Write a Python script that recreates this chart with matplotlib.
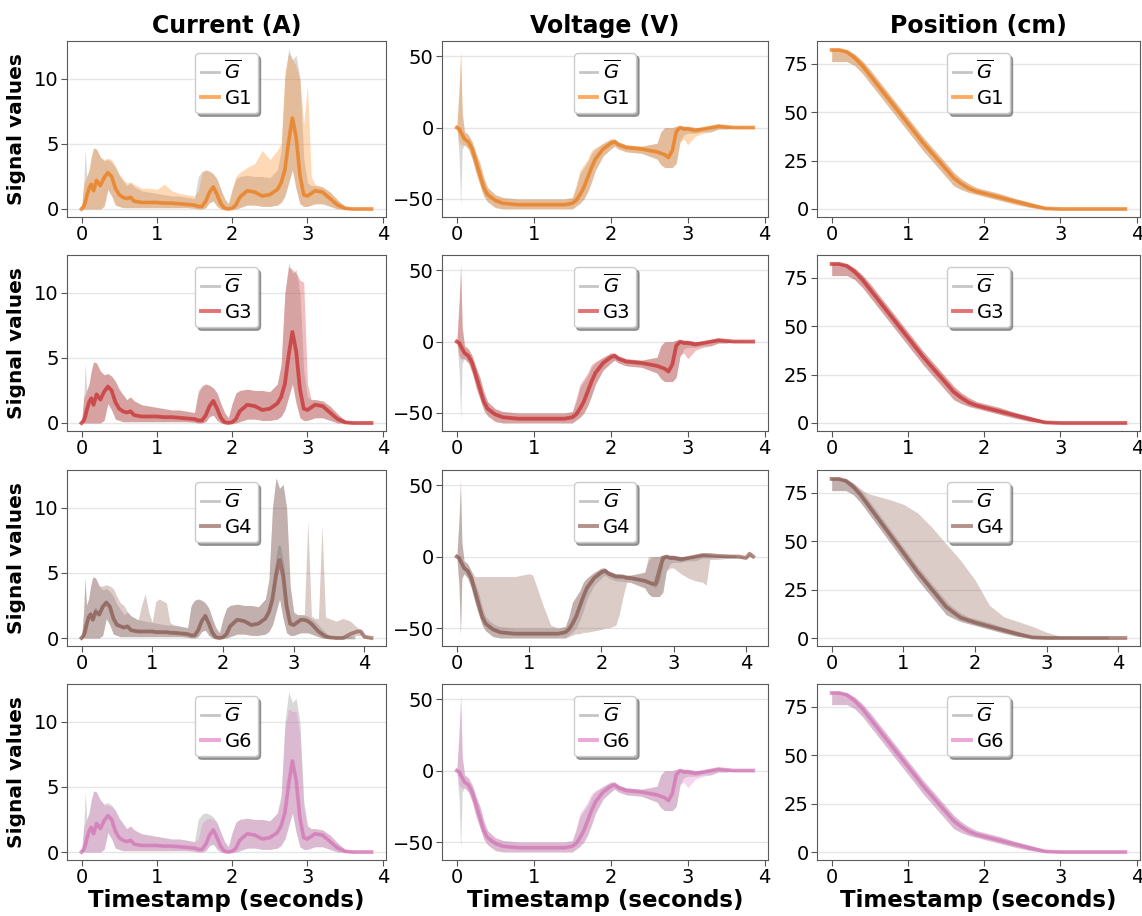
import numpy as np
import matplotlib.pyplot as plt

# ---- current (A): shared time grid for G-bar, G1, G3, G6
t_cur = [0.0, 0.03, 0.05, 0.07, 0.1, 0.13, 0.16, 0.2, 0.25, 0.3, 0.35, 0.4, 0.45, 0.5, 0.55,
         0.6, 0.65, 0.7, 0.8, 0.9, 1.0, 1.1, 1.2, 1.3, 1.4, 1.5, 1.55, 1.6, 1.65, 1.7,
         1.75, 1.8, 1.85, 1.9, 1.95, 2.0, 2.05, 2.1, 2.2, 2.3, 2.4, 2.5, 2.6, 2.65, 2.7,
         2.75, 2.8, 2.85, 2.9, 2.95, 3.0, 3.05, 3.1, 3.2, 3.3, 3.4, 3.5, 3.6, 3.7, 3.85]
cur_mean = [0, 0.2, 0.5, 1.0, 1.6, 1.9, 1.4, 2.2, 1.8, 2.4, 2.8, 2.5, 1.6, 1.1, 0.9,
            0.8, 0.9, 0.6, 0.5, 0.5, 0.5, 0.45, 0.45, 0.4, 0.35, 0.3, 0.2, 0.2, 0.6, 1.3,
            1.7, 1.1, 0.4, 0.05, 0.0, 0.05, 0.3, 0.9, 1.4, 1.3, 1.0, 1.1, 1.5, 2.0, 3.0,
            5.2, 7.0, 5.5, 2.6, 1.1, 1.0, 1.2, 1.4, 1.3, 0.8, 0.3, 0.05, 0, 0, 0]
cur_hi = [0, 2.0, 4.6, 2.5, 3.0, 4.0, 4.7, 4.6, 4.0, 3.7, 3.8, 3.6, 3.2, 2.6, 2.2,
          1.8, 2.0, 1.7, 1.4, 1.3, 1.2, 1.1, 1.0, 1.0, 0.9, 0.8, 2.5, 2.9, 3.0, 2.9,
          2.7, 2.3, 1.5, 0.8, 0.4, 1.5, 2.3, 2.5, 2.6, 2.5, 2.5, 2.4, 3.0, 4.5, 10.0,
          12.3, 11.5, 11.8, 10.0, 4.0, 2.0, 1.8, 1.8, 1.7, 1.3, 0.7, 0.2, 0.05, 0, 0]
cur_lo = [0, 0, 0, 0, 0, 0, 0, 0, 0, 0.2, 1.5, 1.0, 0.3, 0.2, 0.1,
          0.1, 0.1, 0.1, 0.1, 0.1, 0.1, 0.1, 0.1, 0.1, 0.1, 0.05, 0, 0, 0.1, 0.5,
          0.6, 0.2, 0, 0, 0, 0, 0, 0.1, 0.3, 0.3, 0.2, 0.2, 0.3, 0.5, 1.0,
          2.0, 3.0, 1.5, 0.4, 0.2, 0.2, 0.3, 0.4, 0.4, 0.2, 0, 0, 0, 0, 0]
cur_hi_g1 = [0, 2.0, 2.2, 2.5, 3.0, 4.0, 4.7, 4.6, 4.0, 3.8, 3.9, 3.8, 3.3, 2.7, 2.3,
             2.0, 2.1, 1.9, 1.6, 1.6, 1.5, 1.9, 1.4, 1.2, 1.1, 1.0, 1.4, 2.8, 3.0, 2.9,
             2.7, 2.3, 1.5, 0.8, 0.4, 1.5, 2.5, 2.8, 3.2, 3.5, 4.5, 3.8, 4.5, 5.0, 10.5,
             12.0, 11.5, 11.0, 10.0, 6.5, 9.5, 2.5, 1.9, 1.7, 1.3, 0.7, 0.2, 0.05, 0, 0]
cur_hi_g3 = [0, 2.0, 2.2, 2.5, 3.0, 4.0, 4.7, 4.6, 4.0, 3.7, 3.8, 3.6, 3.2, 2.6, 2.2,
             1.8, 2.0, 1.7, 1.4, 1.3, 1.2, 1.1, 1.0, 1.0, 0.9, 0.8, 2.3, 2.8, 3.0, 2.9,
             2.7, 2.3, 1.5, 0.8, 0.4, 1.5, 2.3, 2.5, 2.6, 2.5, 2.5, 2.4, 3.0, 4.5, 10.0,
             12.0, 11.8, 11.5, 11.0, 10.8, 3.0, 1.8, 1.8, 1.7, 1.3, 0.7, 0.2, 0.05, 0, 0]
cur_hi_g6 = [0, 2.0, 2.2, 2.5, 3.0, 4.0, 4.7, 4.6, 4.0, 3.6, 3.6, 3.5, 3.2, 2.6, 2.2,
             1.8, 2.0, 1.7, 1.4, 1.3, 1.2, 1.1, 1.0, 1.0, 0.9, 0.8, 1.0, 2.2, 2.5, 2.6,
             2.5, 2.2, 1.5, 0.8, 0.4, 1.5, 2.3, 2.5, 2.6, 2.5, 2.5, 2.4, 3.0, 4.0, 9.5,
             11.0, 10.8, 10.8, 9.0, 3.5, 2.0, 1.8, 1.8, 1.7, 1.3, 0.7, 0.2, 0.05, 0, 0]

# G4 current has its own grid (extra spikes, runs to 4.1 s)
t_cur4 = [0.0, 0.03, 0.05, 0.07, 0.1, 0.13, 0.16, 0.2, 0.25, 0.3, 0.35, 0.4, 0.45, 0.5, 0.55,
          0.6, 0.65, 0.7, 0.8, 0.85, 0.9, 0.95, 1.0, 1.05, 1.1, 1.2, 1.25, 1.3, 1.4, 1.5,
          1.55, 1.6, 1.65, 1.7, 1.75, 1.8, 1.85, 1.9, 1.95, 2.0, 2.05, 2.1, 2.2, 2.3, 2.4,
          2.5, 2.6, 2.65, 2.7, 2.75, 2.8, 2.85, 2.9, 2.95, 3.0, 3.05, 3.1, 3.15, 3.2, 3.25,
          3.3, 3.35, 3.4, 3.45, 3.5, 3.6, 3.7, 3.8, 3.9, 3.95, 4.0, 4.1]
cur_mean_g4 = [0, 0.2, 0.5, 1.0, 1.6, 1.8, 1.4, 2.0, 1.8, 2.4, 2.7, 2.4, 1.5, 1.0, 0.9,
               0.8, 0.9, 0.6, 0.5, 0.5, 0.5, 0.5, 0.5, 0.45, 0.45, 0.45, 0.4, 0.4, 0.35, 0.3,
               0.2, 0.2, 0.6, 1.3, 1.7, 1.1, 0.4, 0.05, 0.0, 0.05, 0.3, 0.9, 1.4, 1.3, 1.0,
               1.1, 1.5, 2.0, 3.0, 4.8, 6.0, 4.8, 2.4, 1.1, 1.0, 1.2, 1.4, 1.4, 1.3, 1.1,
               0.8, 0.5, 0.3, 0.1, 0.05, 0, 0, 0.3, 0.5, 0.5, 0.1, 0]
cur_hi_g4 = [0, 2.0, 4.6, 2.5, 3.0, 4.0, 4.7, 4.6, 4.0, 4.0, 4.1, 4.0, 3.8, 3.2, 2.7,
             2.5, 2.0, 1.7, 1.4, 2.5, 3.4, 2.0, 1.2, 2.8, 3.0, 2.7, 1.2, 1.0, 0.9, 0.8,
             2.5, 2.9, 3.0, 2.9, 2.7, 2.3, 1.5, 0.8, 0.4, 1.5, 2.3, 2.5, 2.6, 2.5, 2.5,
             2.4, 3.0, 4.5, 10.0, 12.3, 11.5, 11.8, 10.0, 4.0, 2.0, 1.8, 1.8, 1.8, 9.0, 1.7,
             1.5, 1.5, 8.7, 1.6, 1.5, 1.3, 1.5, 1.3, 0.8, 0.6, 0.2, 0]
cur_lo_g4 = [0, 0, 0, 0, 0, 0, 0, 0, 0, 0.2, 1.5, 1.0, 0.3, 0.2, 0.1,
             0.1, 0.1, 0.1, 0.1, 0.1, 0.1, 0.1, 0.1, 0.1, 0.1, 0.1, 0.1, 0.1, 0.1, 0.05,
             0, 0, 0.1, 0.5, 0.6, 0.2, 0, 0, 0, 0, 0, 0.1, 0.3, 0.3, 0.2,
             0.2, 0.3, 0.5, 1.0, 2.0, 3.0, 1.5, 0.4, 0.2, 0.2, 0.3, 0.4, 0.4, 0.4, 0.3,
             0.2, 0.1, 0, 0, 0, 0, 0, 0, 0.2, 0.2, 0, 0]

# ---- voltage (V)
t_volt = [0.0, 0.03, 0.05, 0.07, 0.1, 0.15, 0.2, 0.25, 0.3, 0.35, 0.4, 0.5, 0.6, 0.8, 1.0,
          1.2, 1.4, 1.5, 1.55, 1.6, 1.65, 1.7, 1.75, 1.8, 1.9, 2.0, 2.05, 2.1, 2.2, 2.4,
          2.6, 2.65, 2.7, 2.75, 2.8, 2.85, 2.9, 2.95, 3.0, 3.1, 3.2, 3.3, 3.4, 3.5, 3.6, 3.85]
volt_mean = [0, -1, -3, -5, -8, -10, -15, -24, -33, -42, -47, -51, -53, -54, -54,
             -54, -54, -53, -51, -47, -42, -35, -28, -22, -15, -11, -10, -12, -14, -15,
             -17, -18, -19, -21, -16, -3, 0, -1, -1, -2, -1, 0, 1, 0.5, 0, 0]
volt_hi = [0, 25, 50, 10, -3, -5, -10, -18, -25, -35, -42, -47, -49, -50, -50,
           -50, -50, -49, -42, -32, -28, -24, -18, -15, -11, -8, -8, -10, -12, -13,
           -11, -3, 0, 0, 0, 1, 1, 1, 1, 0, 0, 1, 2, 1, 0.5, 0]
volt_lo = [0, -20, -55, -15, -12, -15, -22, -32, -40, -48, -52, -56, -57, -57, -57,
           -57, -57, -57, -55, -53, -50, -45, -38, -30, -20, -15, -13, -15, -17, -18,
           -22, -26, -28, -28, -28, -25, -10, -5, -4, -4, -3, -3, -1, -1, 0, 0]
volt_hi_grp = [0, 30, 55, 10, -3, -5, -10, -18, -25, -35, -42, -47, -49, -50, -50,
               -50, -50, -49, -40, -30, -26, -22, -16, -14, -11, -8, -8, -10, -12, -13,
               -11, -3, 0, 0, 0, 1, 1, 1, 1, 0, 0, 1, 2, 1, 0.5, 0]
volt_lo_grp = [0, -10, -12, -12, -12, -15, -22, -32, -40, -48, -52, -56, -57, -57, -57,
               -57, -57, -57, -55, -53, -50, -45, -38, -30, -20, -15, -13, -15, -17, -18,
               -22, -26, -28, -28, -28, -25, -10, -8, -12, -6, -4, -3, -1, -1, 0, 0]

t_volt4 = [0.0, 0.03, 0.05, 0.07, 0.1, 0.15, 0.2, 0.25, 0.3, 0.35, 0.4, 0.5, 0.6, 0.8, 1.0,
           1.05, 1.2, 1.3, 1.4, 1.5, 1.55, 1.6, 1.65, 1.7, 1.75, 1.8, 1.9, 2.0, 2.05, 2.1,
           2.2, 2.25, 2.3, 2.35, 2.4, 2.6, 2.65, 2.7, 2.75, 2.8, 2.85, 2.9, 2.95, 3.0, 3.1,
           3.2, 3.3, 3.4, 3.45, 3.5, 3.6, 3.8, 3.9, 4.0, 4.05, 4.1]
volt_mean_g4 = [0, -1, -3, -5, -8, -10, -15, -24, -33, -42, -47, -51, -53, -54, -54,
                -54, -54, -54, -54, -53, -51, -47, -42, -35, -28, -22, -15, -11, -10, -12,
                -14, -14, -14, -15, -15, -17, -18, -19, -19, -10, -1, 0, -1, -1, -2,
                -1, 0, 1, 1, 1, 0.5, 0, 0, -1, 2, 0]
volt_hi_g4 = [0, 25, 55, 10, -3, -5, -10, -14, -14, -14, -14, -14, -14, -14, -12,
              -13, -35, -48, -50, -49, -42, -32, -28, -24, -18, -15, -11, -8, -8, -10,
              -12, -12, -13, -13, -13, -11, 0, 0, 0, 0, 1, 1, 1, 1, 0,
              0, 1, 2, 2, 1, 1, 0.5, 0.5, 0, 3, 0]
volt_lo_g4 = [0, -20, -55, -15, -12, -15, -22, -32, -40, -48, -52, -56, -57, -57, -57,
              -57, -57, -57, -57, -57, -56, -55, -54, -54, -53, -53, -52, -51, -50, -50,
              -48, -40, -28, -18, -18, -22, -26, -28, -28, -28, -25, -10, -8, -8, -12,
              -15, -17, -18, -20, -2, -2, -1, -1, -1, 0, 0]

# ---- position (cm)
t_pos = [0.0, 0.1, 0.2, 0.3, 0.4, 0.5, 0.6, 0.8, 1.0, 1.2, 1.4, 1.6, 1.7, 1.8, 1.9,
         2.0, 2.2, 2.4, 2.6, 2.8, 3.0, 3.2, 3.5, 3.85]
pos_mean = [82, 82, 81, 78, 74, 69, 64, 54, 44, 34, 25, 16, 13, 10.5, 9,
            8, 6, 4, 2, 0.3, 0, 0, 0, 0]
pos_hi = [82.5, 82.5, 82, 80, 76.5, 72, 67, 57, 47, 37, 28, 19, 15.5, 13, 11,
          10, 8, 5.5, 3.5, 1, 0.3, 0.2, 0.2, 0.2]
pos_lo = [76, 76, 76, 74, 70, 65, 60, 50, 40, 30, 21, 12, 10, 8.5, 7.5,
          6.5, 4.5, 2.5, 0.8, 0, 0, 0, 0, 0]

t_pos4 = [0.0, 0.1, 0.2, 0.3, 0.4, 0.5, 0.6, 0.8, 1.0, 1.2, 1.4, 1.6, 1.8, 2.0, 2.2,
          2.4, 2.6, 2.8, 3.0, 3.2, 3.5, 3.85, 4.1]
pos_mean_g4 = [82, 82, 81, 78, 74, 69, 64, 54, 44, 34, 25, 16, 10.5, 8, 6,
               4, 2, 0.3, 0, 0, 0, 0, 0]
pos_hi_g4 = [82.5, 82.5, 82, 80, 77, 74.5, 73.5, 71.5, 69, 64.5, 57, 48.5, 40, 30, 17,
             11, 8.5, 6, 3, 0.8, 0.3, 0.3, 0.3]
pos_lo_g4 = [76, 76, 76, 74, 70, 65, 60, 50, 40, 30, 21, 12, 8.5, 6.5, 4.5,
             2.5, 0.8, 0, 0, 0, 0, 0, 0]

groups = ['G1', 'G3', 'G4', 'G6']
colors = ['tab:orange', 'tab:red', 'tab:brown', 'tab:pink']
titles = ['Current (A)', 'Voltage (V)', 'Position (cm)']
yticks = [[0, 5, 10], [-50, 0, 50], [0, 25, 50, 75]]

# signal -> (G-bar data, per-group data)
gbar = [(t_cur, cur_mean, cur_lo, cur_hi),
        (t_volt, volt_mean, volt_lo, volt_hi),
        (t_pos, pos_mean, pos_lo, pos_hi)]
grp = {
    'G1': [(t_cur, cur_mean, cur_lo, cur_hi_g1),
           (t_volt, volt_mean, volt_lo_grp, volt_hi_grp),
           (t_pos, pos_mean, pos_lo, pos_hi)],
    'G3': [(t_cur, cur_mean, cur_lo, cur_hi_g3),
           (t_volt, volt_mean, volt_lo_grp, volt_hi_grp),
           (t_pos, pos_mean, pos_lo, pos_hi)],
    'G4': [(t_cur4, cur_mean_g4, cur_lo_g4, cur_hi_g4),
           (t_volt4, volt_mean_g4, volt_lo_g4, volt_hi_g4),
           (t_pos4, pos_mean_g4, pos_lo_g4, pos_hi_g4)],
    'G6': [(t_cur, cur_mean, cur_lo, cur_hi_g6),
           (t_volt, volt_mean, volt_lo_grp, volt_hi_grp),
           (t_pos, pos_mean, pos_lo, pos_hi)],
}

W, H = 1142, 916
fig = plt.figure(figsize=(W / 100, H / 100), dpi=100)
col_left = [67, 442, 817]
col_width = [319, 326, 323]
row_top = [41, 255, 470, 684]
row_h = 176

for r, g in enumerate(groups):
    for c in range(3):
        ax = fig.add_axes([col_left[c] / W, 1 - (row_top[r] + row_h) / H,
                           col_width[c] / W, row_h / H])
        t, m, lo, hi = gbar[c]
        ax.fill_between(t, lo, hi, color='grey', alpha=0.3, lw=0)
        hg, = ax.plot(t, m, color='grey', alpha=0.45, lw=2, label=r'$\overline{G}$')
        t, m, lo, hi = grp[g][c]
        ax.fill_between(t, lo, hi, color=colors[r], alpha=0.3, lw=0)
        hc, = ax.plot(t, m, color=colors[r], alpha=0.65, lw=2.8, label=g)

        ax.set_yticks(yticks[c])
        ax.set_xticks([0, 1, 2, 3, 4])
        ax.tick_params(labelsize=14, length=4, color='#555555', pad=2)
        ax.grid(axis='y', color='#e6e6e6', lw=1)
        ax.set_axisbelow(True)
        for s in ax.spines.values():
            s.set_color('#5a5a5a')
        ax.legend(handles=[hg, hc], loc='upper center', bbox_to_anchor=(0.5, 0.985),
                  fontsize=14, shadow=True, handlelength=0.9, handletextpad=0.3,
                  borderpad=0.3, labelspacing=0.3, framealpha=1, edgecolor='#cccccc')
        if r == 0:
            ax.set_title(titles[c], fontsize=17, fontweight='bold', pad=6)
        if c == 0:
            ax.set_ylabel('Signal values', fontsize=14.5, fontweight='bold', labelpad=6)
        if r == 3:
            ax.set_xlabel('Timestamp (seconds)', fontsize=16.5, fontweight='bold', labelpad=1)

fig.savefig('out.png', dpi=100)
